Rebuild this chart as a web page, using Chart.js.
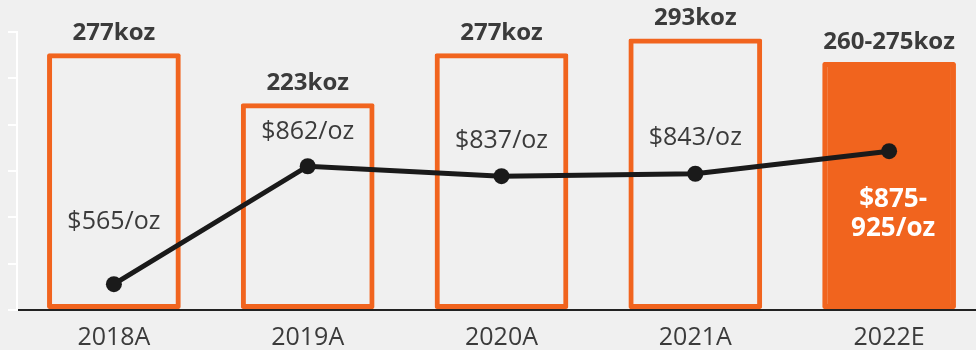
<!DOCTYPE html>
<html>
<head>
<meta charset="utf-8">
<script src="https://cdn.jsdelivr.net/npm/chart.js@4"></script>
<style>
  html, body { margin: 0; padding: 0; background: #f0f0f0; overflow: hidden; }
  #wrap { width: 986px; height: 350px; position: relative; }
</style>
</head>
<body>
<div id="wrap"><canvas id="production"></canvas></div>
<script>
const years = ['2018A', '2019A', '2020A', '2021A', '2022E'];
// gold production, koz (2022E guidance range)
const kozLow = [277, 223, 277, 293, 260];
const kozHigh = [277, 223, 277, 293, 275];
// AISC, $/oz (2022E guidance range)
const costLow = [565, 862, 837, 843, 875];
const costHigh = [565, 862, 837, 843, 925];

const orange = '#f1641e';
const ink = '#3b3b3b';
const fontFamily = '"Open Sans", sans-serif';

const kozMid = kozLow.map((v, i) => (v + kozHigh[i]) / 2);
const costMid = costLow.map((v, i) => (v + costHigh[i]) / 2);
const kozText = kozLow.map((v, i) => v === kozHigh[i] ? v + 'koz' : v + '-' + kozHigh[i] + 'koz');
const costText = costLow.map((v, i) => v === costHigh[i] ? ['$' + v + '/oz'] : ['$' + v + '-', costHigh[i] + '/oz']);
const isEstimate = years.map(y => y.endsWith('E'));

// vertical shift of the cost label from its point
const costLabelShift = [-62, -34, -35, -36, 63];

const labelPlugin = {
  id: 'labels',
  afterDatasetsDraw(chart) {
    const ctx = chart.ctx;
    const bars = chart.getDatasetMeta(0).data;
    const points = chart.getDatasetMeta(1).data;
    ctx.save();
    ctx.textAlign = 'center';
    ctx.textBaseline = 'middle';
    bars.forEach((bar, i) => {
      ctx.fillStyle = ink;
      ctx.font = 'bold 24px ' + fontFamily;
      ctx.fillText(kozText[i], bar.x, bar.y - 20);
    });
    points.forEach((pt, i) => {
      const lines = costText[i];
      const cy = pt.y + costLabelShift[i];
      if (isEstimate[i]) {
        ctx.fillStyle = '#ffffff';
        ctx.font = 'bold 26px ' + fontFamily;
      } else {
        ctx.fillStyle = ink;
        ctx.font = '25px ' + fontFamily;
      }
      lines.forEach((t, j) => {
        const y = cy + (j - (lines.length - 1) / 2) * 29;
        ctx.fillText(t, pt.x + (isEstimate[i] ? 4 : 0), y);
      });
    });
    ctx.restore();
  }
};

new Chart(document.getElementById('production'), {
  data: {
    labels: years,
    datasets: [{
      type: 'bar',
      data: kozMid,
      yAxisID: 'y',
      order: 1,
      backgroundColor: isEstimate.map(e => e ? orange : 'rgba(0,0,0,0)'),
      borderColor: orange,
      borderWidth: 5,
      borderRadius: 2,
      borderSkipped: false,
      barPercentage: 0.69,
      categoryPercentage: 1
    }, {
      type: 'line',
      data: costMid,
      yAxisID: 'y2',
      order: 0,
      borderColor: '#1a1a1a',
      borderWidth: 5,
      pointRadius: 8,
      pointBackgroundColor: '#1a1a1a',
      pointBorderWidth: 0,
      tension: 0
    }]
  },
  options: {
    responsive: true,
    maintainAspectRatio: false,
    animation: false,
    layout: { autoPadding: false, padding: { top: 32, left: 0, right: 0, bottom: 0 } },
    plugins: {
      legend: { display: false },
      tooltip: { enabled: false }
    },
    scales: {
      x: {
        z: 1,
        grid: { display: false },
        border: { color: '#222222', width: 2 },
        ticks: { color: ink, font: { family: fontFamily, size: 25 }, padding: 5 },
        afterFit(scale) { scale.height = 40; }
      },
      y: {
        min: 0,
        max: 300,
        ticks: { stepSize: 50, display: false },
        grid: { drawOnChartArea: false, color: '#ffffff', lineWidth: 2, tickLength: 9 },
        border: { color: '#ffffff', width: 2 },
        afterFit(scale) { scale.width = 17; }
      },
      y2: {
        display: false,
        min: 500,
        max: 1200
      }
    }
  },
  plugins: [labelPlugin]
});
</script>
</body>
</html>
